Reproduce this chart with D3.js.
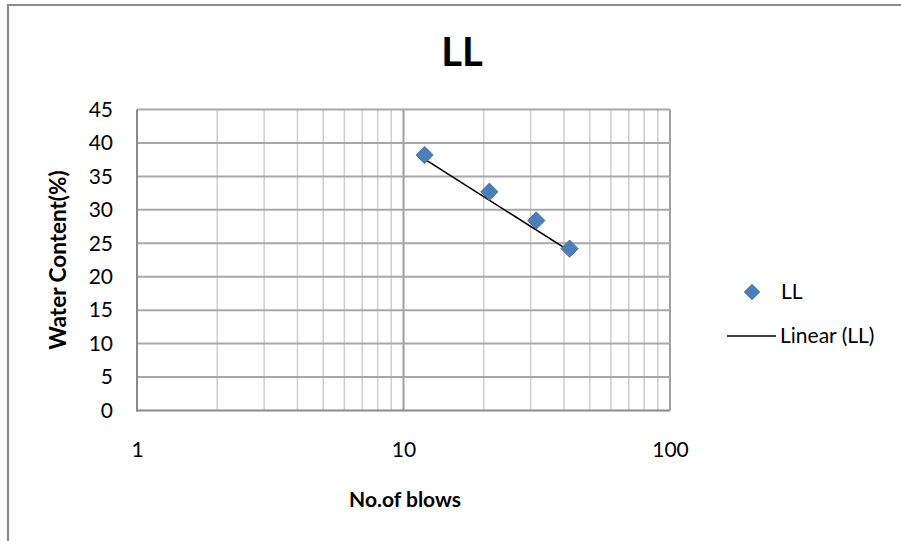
<!DOCTYPE html>
<html>
<head>
<meta charset="utf-8">
<script src="https://cdn.jsdelivr.net/npm/d3@7/dist/d3.min.js"></script>
<style>
  html, body { margin: 0; padding: 0; background: #fff; }
  svg { display: block; }
  text { font-family: Lato, "Open Sans", sans-serif; fill: #000; }
</style>
</head>
<body>
<svg id="chart" width="901" height="541"></svg>
<script>
// Liquid limit test: number of blows vs water content
const blows = [12, 21, 31.5, 42];
const waterContent = [38.2, 32.7, 28.4, 24.2];
const xTickValues = [1, 10, 100];
const yTickValues = [0, 5, 10, 15, 20, 25, 30, 35, 40, 45];

const svg = d3.select("#chart");
const W = 901, H = 541;
const plot = { left: 137, right: 670, top: 109.5, bottom: 410.5 };

// outer chart frame (continues past the right and bottom edges)
svg.append("path")
  .attr("d", `M8,${H + 5} L8,5 L${W + 5},5`)
  .attr("fill", "none")
  .attr("stroke", "#8a8a8a")
  .attr("stroke-width", 2.2);

const x = d3.scaleLog().domain([1, 100]).range([plot.left, plot.right]);
const y = d3.scaleLinear().domain([0, 45]).range([plot.bottom, plot.top]);

// vertical gridlines: minor (2..9, 20..90) and major (10, 100)
const minorX = [];
[1, 10].forEach(dec => { for (let k = 2; k <= 9; k++) minorX.push(dec * k); });
svg.append("g").selectAll("line").data(minorX).join("line")
  .attr("x1", d => x(d)).attr("x2", d => x(d))
  .attr("y1", plot.top).attr("y2", plot.bottom)
  .attr("stroke", "#cfcfcf").attr("stroke-width", 1.5);

svg.append("g").selectAll("line").data([10, 100]).join("line")
  .attr("x1", d => x(d)).attr("x2", d => x(d))
  .attr("y1", plot.top).attr("y2", plot.bottom)
  .attr("stroke", "#a0a0a0").attr("stroke-width", 2);

// horizontal gridlines
svg.append("g").selectAll("line").data(yTickValues.filter(v => v > 0)).join("line")
  .attr("x1", plot.left).attr("x2", plot.right)
  .attr("y1", d => y(d)).attr("y2", d => y(d))
  .attr("stroke", "#a8a8a8").attr("stroke-width", 2);

// axis lines
svg.append("line")
  .attr("x1", plot.left).attr("x2", plot.left)
  .attr("y1", plot.top).attr("y2", plot.bottom + 1)
  .attr("stroke", "#8a8a8a").attr("stroke-width", 2);
svg.append("line")
  .attr("x1", plot.left - 1).attr("x2", plot.right)
  .attr("y1", plot.bottom).attr("y2", plot.bottom)
  .attr("stroke", "#8a8a8a").attr("stroke-width", 2);

// y axis tick labels
const yAxis = d3.axisLeft(y).tickValues(yTickValues).tickSize(0).tickPadding(24)
  .tickFormat(d3.format("d"));
const gy = svg.append("g").attr("transform", `translate(${plot.left},0)`).call(yAxis);
gy.select(".domain").remove();
gy.selectAll("text").style("font-family", "Lato, sans-serif").style("font-size", "21px").attr("fill", "#000");

// x axis tick labels
const xAxis = d3.axisBottom(x).tickValues(xTickValues).tickSize(0).tickPadding(32)
  .tickFormat(d3.format("d"));
const gx = svg.append("g").attr("transform", `translate(0,${plot.bottom})`).call(xAxis);
gx.select(".domain").remove();
gx.selectAll("text").style("font-family", "Lato, sans-serif").style("font-size", "21px").attr("fill", "#000");

// title and axis titles
svg.append("text")
  .attr("x", 462).attr("y", 66)
  .attr("text-anchor", "middle")
  .style("font-size", "40px").style("font-weight", "bold")
  .text("LL");

svg.append("text")
  .attr("x", 405).attr("y", 507)
  .attr("text-anchor", "middle")
  .style("font-size", "21px").style("font-weight", "bold")
  .text("No.of blows");

svg.append("text")
  .attr("transform", `translate(66,260) rotate(-90)`)
  .attr("text-anchor", "middle")
  .style("font-size", "22.5px").style("font-weight", "bold")
  .text("Water Content(%)");

// linear trendline: least squares fit of water content on blows,
// drawn as a segment between the fitted values at the end points
const mx = d3.mean(blows), my = d3.mean(waterContent);
const sxy = d3.sum(blows, (b, i) => (b - mx) * (waterContent[i] - my));
const sxx = d3.sum(blows, b => (b - mx) * (b - mx));
const slope = sxy / sxx, intercept = my - slope * mx;
const trend = d3.extent(blows).map(b => [b, intercept + slope * b]);

svg.append("path")
  .datum(trend)
  .attr("d", d3.line().x(d => x(d[0])).y(d => y(d[1])))
  .attr("fill", "none")
  .attr("stroke", "#000")
  .attr("stroke-width", 1.6);

// data markers (diamonds)
const diamond = d3.symbol().type(d3.symbolSquare).size(150);
svg.append("g").selectAll("path").data(blows).join("path")
  .attr("d", diamond)
  .attr("transform", (d, i) => `translate(${x(d)},${y(waterContent[i])}) rotate(45)`)
  .attr("fill", "#4a7ebb")
  .attr("stroke", "#3f6fa8")
  .attr("stroke-width", 0.8);

// legend
const lg = svg.append("g");
lg.append("path")
  .attr("d", d3.symbol().type(d3.symbolSquare).size(120))
  .attr("transform", "translate(752,292) rotate(45)")
  .attr("fill", "#4a7ebb").attr("stroke", "#3f6fa8").attr("stroke-width", 0.8);
lg.append("text").attr("x", 781).attr("y", 299)
  .style("font-size", "21px").text("LL");
lg.append("line")
  .attr("x1", 727).attr("x2", 776).attr("y1", 336).attr("y2", 336)
  .attr("stroke", "#000").attr("stroke-width", 1.6);
lg.append("text").attr("x", 780).attr("y", 343)
  .style("font-size", "21px").text("Linear (LL)");
</script>
</body>
</html>
